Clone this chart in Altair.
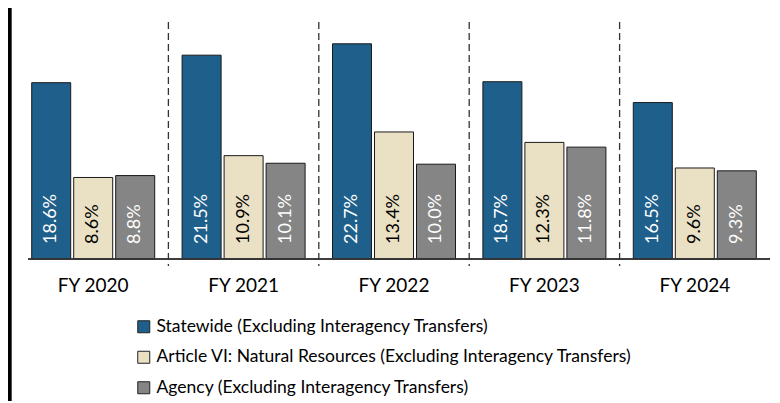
import altair as alt
import pandas as pd

years = ["FY 2020", "FY 2021", "FY 2022", "FY 2023", "FY 2024"]
series = [
    "Statewide (Excluding Interagency Transfers)",
    "Article VI: Natural Resources (Excluding Interagency Transfers)",
    "Agency (Excluding Interagency Transfers)",
]
statewide = [18.6, 21.5, 22.7, 18.7, 16.5]
article6 = [8.6, 10.9, 13.4, 12.3, 9.6]
agency = [8.8, 10.1, 10.0, 11.8, 9.3]
colors = ["#1F5F8B", "#EAE0C4", "#858585"]

rows = []
for i, y in enumerate(years):
    for s, vals in zip(series, [statewide, article6, agency]):
        rows.append({"year": y, "series": s, "value": vals[i], "label": f"{vals[i]:.1f}%"})
df = pd.DataFrame(rows)
sep = pd.DataFrame({"year": years[:-1]})

FONT = "Lato"
W, H = 752, 237
yscale = alt.Scale(domain=[0, 25], nice=False, zero=True)

xenc = alt.X("year:N", sort=years, title=None,
             scale=alt.Scale(paddingInner=0, paddingOuter=0),
             axis=alt.Axis(labelAngle=0, ticks=False, domain=False, labelFont=FONT,
                           labelFontSize=19, labelColor="#000", labelPadding=17))
xoff = alt.XOffset("series:N", sort=series,
                   scale=alt.Scale(paddingInner=0.0714, paddingOuter=0.326))

base = alt.Chart(df)

bars = base.mark_bar(stroke="#1a1a1a", strokeWidth=1).encode(
    x=xenc, xOffset=xoff,
    y=alt.Y("value:Q", scale=yscale, axis=None),
    color=alt.Color("series:N", sort=series,
                    scale=alt.Scale(domain=series, range=colors),
                    legend=alt.Legend(title=None, orient="none", legendX=117, legendY=296,
                                      direction="vertical", symbolType="square",
                                      symbolSize=144, symbolStrokeColor="#222",
                                      symbolStrokeWidth=1, labelFont=FONT,
                                      labelFontSize=17.5, labelColor="#000",
                                      labelLimit=700, rowPadding=11.5, padding=0,
                                      labelOffset=4)),
)

labels = base.transform_calculate(zero="0").mark_text(
    angle=270, align="left", baseline="middle", dx=15, font=FONT, fontSize=18).encode(
    x=alt.X("year:N", sort=years), xOffset=xoff,
    y=alt.Y("zero:Q", scale=yscale, axis=None),
    text="label:N",
    fill=alt.condition(alt.datum.series == series[1], alt.value("#000"), alt.value("#fff")),
)

seps = alt.Chart(sep).mark_rule(stroke="#333", strokeWidth=1.3, strokeDash=[7, 4]).encode(
    x=alt.X("year:N", sort=years, bandPosition=1),
    y=alt.value(0), y2=alt.value(244),
)

baseline = alt.Chart(sep).mark_rule(stroke="#333", strokeWidth=1).encode(
    x=alt.value(10), x2=alt.value(752), y=alt.value(H),
)

leftline = alt.Chart(sep).mark_rule(stroke="#000", strokeWidth=3.5).encode(
    x=alt.value(-8.5), y=alt.value(-14), y2=alt.value(390),
)

chart = alt.layer(bars, labels, seps, baseline, leftline).properties(
    width=W, height=H,
    autosize=alt.AutoSizeParams(type="none"),
    padding={"left": 10, "top": 14, "right": 0, "bottom": 142},
).configure_view(stroke=None)

chart.save("out.html", embed_options={"renderer": "svg", "actions": False})
